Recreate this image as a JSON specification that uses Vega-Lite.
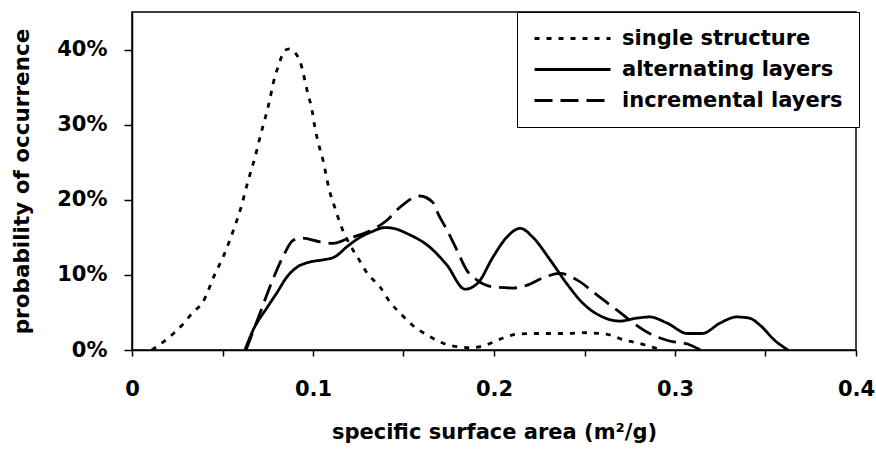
{
  "$schema": "https://vega.github.io/schema/vega-lite/v6.json",
  "width": 724,
  "height": 338,
  "autosize": "none",
  "padding": {"left": 132, "top": 12, "right": 20, "bottom": 100},
  "background": "#ffffff",
  "config": {
    "font": "DejaVu Sans",
    "view": {"stroke": "#000000", "strokeWidth": 1.5}
  },
  "data": {
    "values": [
      {"series": "single structure", "x": 0.011, "y": 0},
      {"series": "single structure", "x": 0.0127, "y": 0.003},
      {"series": "single structure", "x": 0.02, "y": 0.016},
      {"series": "single structure", "x": 0.0276, "y": 0.033},
      {"series": "single structure", "x": 0.034, "y": 0.051},
      {"series": "single structure", "x": 0.0387, "y": 0.062},
      {"series": "single structure", "x": 0.046, "y": 0.102},
      {"series": "single structure", "x": 0.05, "y": 0.122},
      {"series": "single structure", "x": 0.054, "y": 0.146},
      {"series": "single structure", "x": 0.057, "y": 0.166},
      {"series": "single structure", "x": 0.06, "y": 0.188},
      {"series": "single structure", "x": 0.064, "y": 0.224},
      {"series": "single structure", "x": 0.068, "y": 0.257},
      {"series": "single structure", "x": 0.071, "y": 0.286},
      {"series": "single structure", "x": 0.0735, "y": 0.308},
      {"series": "single structure", "x": 0.076, "y": 0.332},
      {"series": "single structure", "x": 0.078, "y": 0.355},
      {"series": "single structure", "x": 0.081, "y": 0.379},
      {"series": "single structure", "x": 0.0845, "y": 0.399},
      {"series": "single structure", "x": 0.087, "y": 0.401},
      {"series": "single structure", "x": 0.09, "y": 0.396},
      {"series": "single structure", "x": 0.093, "y": 0.383},
      {"series": "single structure", "x": 0.097, "y": 0.343},
      {"series": "single structure", "x": 0.0995, "y": 0.319},
      {"series": "single structure", "x": 0.101, "y": 0.297},
      {"series": "single structure", "x": 0.103, "y": 0.275},
      {"series": "single structure", "x": 0.1055, "y": 0.253},
      {"series": "single structure", "x": 0.109, "y": 0.213},
      {"series": "single structure", "x": 0.112, "y": 0.19},
      {"series": "single structure", "x": 0.116, "y": 0.162},
      {"series": "single structure", "x": 0.12, "y": 0.142},
      {"series": "single structure", "x": 0.125, "y": 0.122},
      {"series": "single structure", "x": 0.13, "y": 0.102},
      {"series": "single structure", "x": 0.137, "y": 0.084},
      {"series": "single structure", "x": 0.1425, "y": 0.064},
      {"series": "single structure", "x": 0.149, "y": 0.047},
      {"series": "single structure", "x": 0.155, "y": 0.033},
      {"series": "single structure", "x": 0.163, "y": 0.02},
      {"series": "single structure", "x": 0.172, "y": 0.009},
      {"series": "single structure", "x": 0.181, "y": 0.004},
      {"series": "single structure", "x": 0.188, "y": 0.003},
      {"series": "single structure", "x": 0.196, "y": 0.007},
      {"series": "single structure", "x": 0.205, "y": 0.016},
      {"series": "single structure", "x": 0.2125, "y": 0.021},
      {"series": "single structure", "x": 0.2215, "y": 0.022},
      {"series": "single structure", "x": 0.231, "y": 0.022},
      {"series": "single structure", "x": 0.24, "y": 0.022},
      {"series": "single structure", "x": 0.249, "y": 0.023},
      {"series": "single structure", "x": 0.2585, "y": 0.022},
      {"series": "single structure", "x": 0.264, "y": 0.02},
      {"series": "single structure", "x": 0.271, "y": 0.014},
      {"series": "single structure", "x": 0.28, "y": 0.009},
      {"series": "single structure", "x": 0.29, "y": 0.002},
      {"series": "alternating layers", "x": 0.0624, "y": 0},
      {"series": "alternating layers", "x": 0.067, "y": 0.027},
      {"series": "alternating layers", "x": 0.0745, "y": 0.056},
      {"series": "alternating layers", "x": 0.08, "y": 0.076},
      {"series": "alternating layers", "x": 0.0855, "y": 0.097},
      {"series": "alternating layers", "x": 0.091, "y": 0.11},
      {"series": "alternating layers", "x": 0.098, "y": 0.117},
      {"series": "alternating layers", "x": 0.1055, "y": 0.12},
      {"series": "alternating layers", "x": 0.112, "y": 0.124},
      {"series": "alternating layers", "x": 0.119, "y": 0.138},
      {"series": "alternating layers", "x": 0.126, "y": 0.15},
      {"series": "alternating layers", "x": 0.132, "y": 0.157},
      {"series": "alternating layers", "x": 0.14, "y": 0.163},
      {"series": "alternating layers", "x": 0.146, "y": 0.161},
      {"series": "alternating layers", "x": 0.152, "y": 0.155},
      {"series": "alternating layers", "x": 0.1645, "y": 0.137},
      {"series": "alternating layers", "x": 0.174, "y": 0.113},
      {"series": "alternating layers", "x": 0.184, "y": 0.081},
      {"series": "alternating layers", "x": 0.191, "y": 0.089},
      {"series": "alternating layers", "x": 0.1995, "y": 0.124},
      {"series": "alternating layers", "x": 0.207, "y": 0.15},
      {"series": "alternating layers", "x": 0.2145, "y": 0.162},
      {"series": "alternating layers", "x": 0.2215, "y": 0.15},
      {"series": "alternating layers", "x": 0.231, "y": 0.12},
      {"series": "alternating layers", "x": 0.24, "y": 0.089},
      {"series": "alternating layers", "x": 0.249, "y": 0.0625},
      {"series": "alternating layers", "x": 0.26, "y": 0.044},
      {"series": "alternating layers", "x": 0.2695, "y": 0.0385},
      {"series": "alternating layers", "x": 0.279, "y": 0.0425},
      {"series": "alternating layers", "x": 0.286, "y": 0.044},
      {"series": "alternating layers", "x": 0.2955, "y": 0.036},
      {"series": "alternating layers", "x": 0.307, "y": 0.022},
      {"series": "alternating layers", "x": 0.315, "y": 0.022},
      {"series": "alternating layers", "x": 0.325, "y": 0.036},
      {"series": "alternating layers", "x": 0.334, "y": 0.044},
      {"series": "alternating layers", "x": 0.341, "y": 0.0425},
      {"series": "alternating layers", "x": 0.347, "y": 0.033},
      {"series": "alternating layers", "x": 0.355, "y": 0.013},
      {"series": "alternating layers", "x": 0.3625, "y": 0},
      {"series": "incremental layers", "x": 0.063, "y": 0},
      {"series": "incremental layers", "x": 0.0707, "y": 0.049},
      {"series": "incremental layers", "x": 0.077, "y": 0.089},
      {"series": "incremental layers", "x": 0.0834, "y": 0.124},
      {"series": "incremental layers", "x": 0.089, "y": 0.146},
      {"series": "incremental layers", "x": 0.094, "y": 0.149},
      {"series": "incremental layers", "x": 0.104, "y": 0.144},
      {"series": "incremental layers", "x": 0.111, "y": 0.142},
      {"series": "incremental layers", "x": 0.12, "y": 0.149},
      {"series": "incremental layers", "x": 0.128, "y": 0.155},
      {"series": "incremental layers", "x": 0.141, "y": 0.173},
      {"series": "incremental layers", "x": 0.148, "y": 0.19},
      {"series": "incremental layers", "x": 0.159, "y": 0.205},
      {"series": "incremental layers", "x": 0.166, "y": 0.197},
      {"series": "incremental layers", "x": 0.169, "y": 0.182},
      {"series": "incremental layers", "x": 0.1746, "y": 0.157},
      {"series": "incremental layers", "x": 0.1795, "y": 0.133},
      {"series": "incremental layers", "x": 0.185, "y": 0.106},
      {"series": "incremental layers", "x": 0.1906, "y": 0.093},
      {"series": "incremental layers", "x": 0.1995, "y": 0.084},
      {"series": "incremental layers", "x": 0.2105, "y": 0.0825},
      {"series": "incremental layers", "x": 0.218, "y": 0.086},
      {"series": "incremental layers", "x": 0.227, "y": 0.096},
      {"series": "incremental layers", "x": 0.2365, "y": 0.102},
      {"series": "incremental layers", "x": 0.246, "y": 0.093},
      {"series": "incremental layers", "x": 0.257, "y": 0.073},
      {"series": "incremental layers", "x": 0.268, "y": 0.053},
      {"series": "incremental layers", "x": 0.277, "y": 0.036},
      {"series": "incremental layers", "x": 0.286, "y": 0.022},
      {"series": "incremental layers", "x": 0.297, "y": 0.012},
      {"series": "incremental layers", "x": 0.307, "y": 0.008},
      {"series": "incremental layers", "x": 0.314, "y": 0}
    ]
  },
  "mark": {"type": "line", "color": "#000000", "strokeWidth": 2.8, "interpolate": "monotone"},
  "encoding": {
    "x": {
      "field": "x",
      "type": "quantitative",
      "scale": {"domain": [0, 0.4], "nice": false, "zero": false},
      "axis": {
        "values": [0, 0.05, 0.1, 0.15, 0.2, 0.25, 0.3, 0.35, 0.4],
        "format": ".1~f",
        "labelExpr": "round(datum.value * 100) % 10 == 0 ? datum.label : ''",
        "labelFlush": false,
        "labelOverlap": false,
        "labelBound": false,
        "grid": false,
        "domainColor": "#000000",
        "domainWidth": 1.5,
        "tickColor": "#000000",
        "tickWidth": 1.5,
        "tickSize": 6,
        "labelPadding": 22,
        "labelFont": "DejaVu Sans",
        "labelFontWeight": "bold",
        "labelFontSize": 21,
        "labelColor": "#000000",
        "title": "specific surface area (m²/g)",
        "titleFont": "DejaVu Sans",
        "titleFontWeight": "bold",
        "titleFontSize": 21,
        "titleColor": "#000000",
        "titlePadding": 22
      }
    },
    "y": {
      "field": "y",
      "type": "quantitative",
      "scale": {"domain": [0, 0.45], "nice": false},
      "axis": {
        "values": [0, 0.1, 0.2, 0.3, 0.4],
        "format": ".0%",
        "grid": false,
        "domainColor": "#000000",
        "domainWidth": 1.5,
        "tickColor": "#000000",
        "tickWidth": 1.5,
        "tickSize": 8,
        "labelPadding": 17,
        "labelFont": "DejaVu Sans",
        "labelFontWeight": "bold",
        "labelFontSize": 21,
        "labelColor": "#000000",
        "title": "probability of occurrence",
        "titleFont": "DejaVu Sans",
        "titleFontWeight": "bold",
        "titleFontSize": 21.5,
        "titleColor": "#000000",
        "titlePadding": 23
      }
    },
    "strokeDash": {
      "field": "series",
      "type": "nominal",
      "scale": {
        "domain": ["single structure", "alternating layers", "incremental layers"],
        "range": [[5, 7], [1, 0], [18, 8]]
      },
      "legend": {
        "orient": "none",
        "legendX": 385,
        "legendY": 0,
        "title": null,
        "symbolType": "stroke",
        "symbolSize": 5776,
        "symbolStrokeWidth": 2.8,
        "symbolStrokeColor": "#000000",
        "clipHeight": 21,
        "labelFont": "DejaVu Sans",
        "labelFontWeight": "bold",
        "labelFontSize": 21,
        "labelColor": "#000000",
        "labelOffset": 10,
        "labelLimit": 400,
        "padding": 16,
        "rowPadding": 9,
        "strokeColor": "#000000",
        "fillColor": "#ffffff"
      }
    }
  }
}
